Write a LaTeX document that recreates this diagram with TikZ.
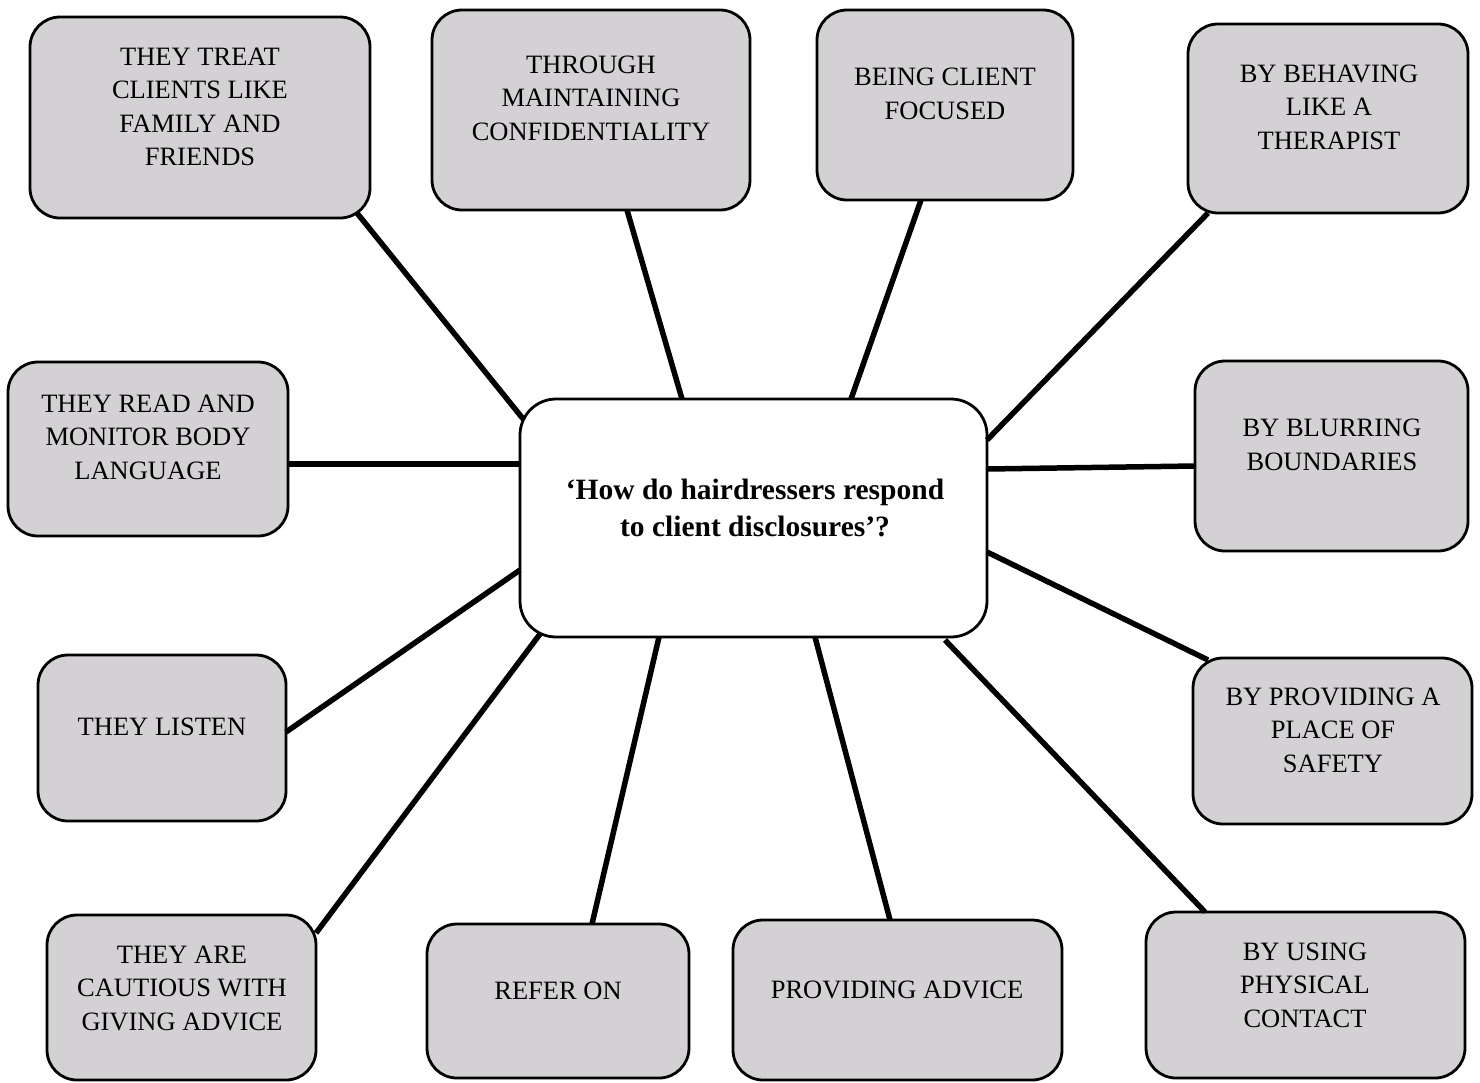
\documentclass[tikz,border=0pt]{standalone}
\usepackage{fontspec}
\setmainfont{Liberation Serif}
\usetikzlibrary{calc}
\definecolor{boxgray}{RGB}{211,209,211}
\tikzset{
  box/.style={draw=black, line width=2.8pt, fill=boxgray, rounded corners=30pt, inner sep=0pt, outer sep=0pt},
  hub/.style={draw=black, line width=2.8pt, fill=white, rounded corners=36pt, inner sep=0pt, outer sep=0pt},
  txt/.style={align=center, inner sep=0pt, font=\fontsize{26.5}{33.5}\selectfont},
  hubtxt/.style={align=center, inner sep=0pt, font=\fontsize{29.5}{37}\selectfont\bfseries},
  link/.style={line width=5.5pt, black}
}
\begin{document}
\begin{tikzpicture}[x=1pt,y=-1pt]
\useasboundingbox (0,0) rectangle (1480,1082);
% boxes
\node[box, minimum width=340pt, minimum height=201pt] (b1) at (200,117.5) {};
\node[box, minimum width=318pt, minimum height=200pt] (b2) at (591,110) {};
\node[box, minimum width=256pt, minimum height=190pt] (b3) at (945,105) {};
\node[box, minimum width=280pt, minimum height=189pt] (b4) at (1328,118.5) {};
\node[box, minimum width=280pt, minimum height=174pt] (b5) at (148,449) {};
\node[hub, minimum width=467pt, minimum height=238pt] (c) at (753.5,518) {};
\node[box, minimum width=273pt, minimum height=190pt] (b7) at (1331.5,456) {};
\node[box, minimum width=248pt, minimum height=166pt] (b8) at (162,738) {};
\node[box, minimum width=279pt, minimum height=166pt] (b9) at (1332.5,741) {};
\node[box, minimum width=269pt, minimum height=165pt] (b10) at (181.5,997.5) {};
\node[box, minimum width=262pt, minimum height=154pt] (b11) at (558,1001) {};
\node[box, minimum width=329pt, minimum height=160pt] (b12) at (897.5,1000) {};
\node[box, minimum width=319pt, minimum height=166pt] (b13) at (1305.5,995) {};
% texts
\node[txt] (t1) at (200,107) {THEY TREAT\\CLIENTS LIKE\\FAMILY AND\\FRIENDS};
\node[txt] (t2) at (591,98) {THROUGH\\MAINTAINING\\CONFIDENTIALITY};
\node[txt] (t3) at (945,94) {BEING CLIENT\\FOCUSED};
\node[txt] (t4) at (1329,107) {BY BEHAVING\\LIKE A\\THERAPIST};
\node[txt] (t5) at (148,437) {THEY READ AND\\MONITOR BODY\\LANGUAGE};
\node[hubtxt] (tc) at (755,508) {‘How do hairdressers respond\\to client disclosures’?};
\node[txt] (t7) at (1332,445) {BY BLURRING\\BOUNDARIES};
\node[txt] (t8) at (162,727) {THEY LISTEN};
\node[txt] (t9) at (1333,730) {BY PROVIDING A\\PLACE OF\\SAFETY};
\node[txt] (t10) at (182,988) {THEY ARE\\CAUTIOUS WITH\\GIVING ADVICE};
\node[txt] (t11) at (558,991) {REFER ON};
\node[txt] (t12) at (897,990) {PROVIDING ADVICE};
\node[txt] (t13) at (1305,985) {BY USING\\PHYSICAL\\CONTACT};
% connectors
\draw[link] ($(b1.south east)+(-13,-5)$) -- ($(c.north west)+(4,21)$);
\draw[link] ($(b2.south)+(36,0)$) -- ($(c.north)+(-71.5,0)$);
\draw[link] ($(b3.south)+(-24,0)$) -- ($(c.north)+(97.5,0)$);
\draw[link] ($(b4.south west)+(20,0)$) -- ($(c.north east)+(0,41)$);
\draw[link] ($(b5.east)+(0,15)$) -- ($(c.west)+(0,-54)$);
\draw[link] ($(b7.west)+(0,10)$) -- ($(c.east)+(0,-49)$);
\draw[link] ($(b8.east)+(0,-6)$) -- ($(c.west)+(0,52)$);
\draw[link] ($(b9.north west)+(15,2)$) -- ($(c.east)+(0,34)$);
\draw[link] ($(b10.north east)+(0,18)$) -- ($(c.south west)+(20,-3)$);
\draw[link] ($(b11.north)+(34,0)$) -- ($(c.south)+(-94.5,0)$);
\draw[link] ($(b12.north)+(-7.5,0)$) -- ($(c.south)+(61.5,0)$);
\draw[link] ($(b13.north)+(-100.5,0)$) -- ($(c.south east)+(-42,3)$);
\end{tikzpicture}
\end{document}
